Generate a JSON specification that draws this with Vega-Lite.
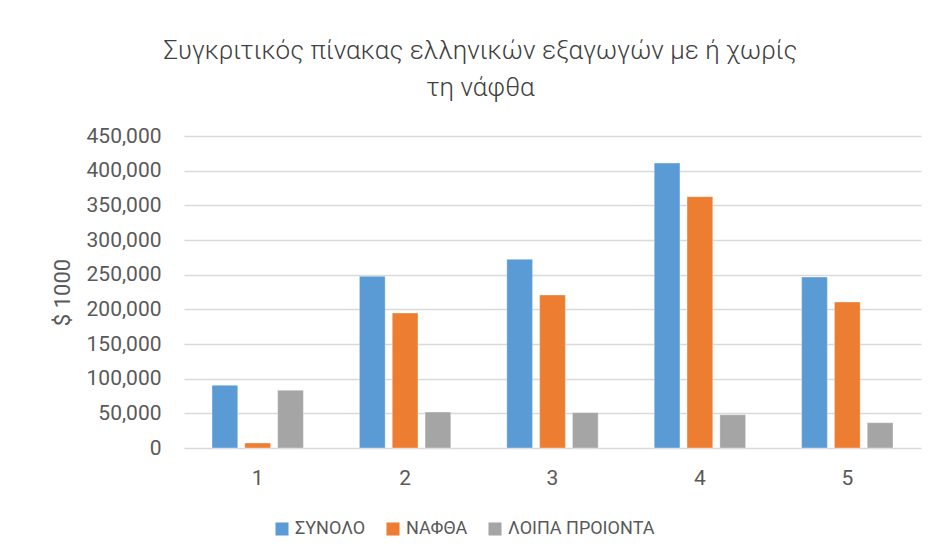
{
  "$schema": "https://vega.github.io/schema/vega-lite/v6.json",
  "width": 737,
  "height": 312,
  "autosize": {"type": "none"},
  "padding": {"left": 184, "top": 136, "right": 16, "bottom": 111},
  "background": "white",
  "title": {
    "text": ["Συγκριτικός πίνακας ελληνικών εξαγωγών με ή χωρίς", "τη νάφθα"],
    "font": "Roboto",
    "fontWeight": 300,
    "fontSize": 26,
    "lineHeight": 37,
    "color": "#404040",
    "anchor": "middle",
    "dx": -72,
    "offset": 24
  },
  "data": {
    "values": [
      {"group": "1", "series": "ΣΥΝΟΛΟ", "value": 90400},
      {"group": "1", "series": "ΝΑΦΘΑ", "value": 7200},
      {"group": "1", "series": "ΛΟΙΠΑ ΠΡΟΙΟΝΤΑ", "value": 83200},
      {"group": "2", "series": "ΣΥΝΟΛΟ", "value": 247600},
      {"group": "2", "series": "ΝΑΦΘΑ", "value": 194700},
      {"group": "2", "series": "ΛΟΙΠΑ ΠΡΟΙΟΝΤΑ", "value": 51900},
      {"group": "3", "series": "ΣΥΝΟΛΟ", "value": 272200},
      {"group": "3", "series": "ΝΑΦΘΑ", "value": 220700},
      {"group": "3", "series": "ΛΟΙΠΑ ΠΡΟΙΟΝΤΑ", "value": 51000},
      {"group": "4", "series": "ΣΥΝΟΛΟ", "value": 411000},
      {"group": "4", "series": "ΝΑΦΘΑ", "value": 362500},
      {"group": "4", "series": "ΛΟΙΠΑ ΠΡΟΙΟΝΤΑ", "value": 48000},
      {"group": "5", "series": "ΣΥΝΟΛΟ", "value": 246600},
      {"group": "5", "series": "ΝΑΦΘΑ", "value": 210600},
      {"group": "5", "series": "ΛΟΙΠΑ ΠΡΟΙΟΝΤΑ", "value": 36500}
    ]
  },
  "mark": {"type": "bar", "strokeWidth": 1, "strokeOpacity": 0.35, "stroke": "white"},
  "encoding": {
    "x": {
      "field": "group",
      "type": "nominal",
      "scale": {"paddingInner": 0.38, "paddingOuter": 0.19},
      "axis": {
        "title": null,
        "labelAngle": 0,
        "labelFont": "Roboto",
        "labelFontSize": 21,
        "labelColor": "#595959",
        "labelPadding": 19,
        "ticks": false,
        "domain": false,
        "grid": false
      }
    },
    "xOffset": {
      "field": "series",
      "sort": ["ΣΥΝΟΛΟ", "ΝΑΦΘΑ", "ΛΟΙΠΑ ΠΡΟΙΟΝΤΑ"],
      "scale": {"paddingInner": 0.215}
    },
    "y": {
      "field": "value",
      "type": "quantitative",
      "scale": {"domain": [0, 450000], "nice": false},
      "axis": {
        "title": "$ 1000",
        "titleFont": "Roboto",
        "titleFontWeight": "normal",
        "titleFontSize": 22,
        "titleColor": "#595959",
        "titlePadding": 12,
        "values": [0, 50000, 100000, 150000, 200000, 250000, 300000, 350000, 400000, 450000],
        "format": ",.0f",
        "labelFont": "Roboto",
        "labelFontSize": 21,
        "labelColor": "#595959",
        "labelPadding": 23,
        "ticks": false,
        "domain": false,
        "grid": true,
        "gridColor": "#d9d9d9",
        "gridWidth": 1.3
      }
    },
    "color": {
      "field": "series",
      "type": "nominal",
      "sort": ["ΣΥΝΟΛΟ", "ΝΑΦΘΑ", "ΛΟΙΠΑ ΠΡΟΙΟΝΤΑ"],
      "scale": {
        "domain": ["ΣΥΝΟΛΟ", "ΝΑΦΘΑ", "ΛΟΙΠΑ ΠΡΟΙΟΝΤΑ"],
        "range": ["#5b9bd5", "#ed7d31", "#a5a5a5"]
      },
      "legend": {
        "title": null,
        "orient": "none",
        "direction": "horizontal",
        "legendX": 89,
        "legendY": 384,
        "symbolType": "square",
        "symbolSize": 170,
        "symbolStrokeWidth": 0,
        "labelFont": "Roboto",
        "labelFontSize": 18,
        "labelColor": "#595959",
        "columnPadding": 18,
        "labelOffset": 4
      }
    }
  },
  "config": {
    "view": {"stroke": null}
  }
}
